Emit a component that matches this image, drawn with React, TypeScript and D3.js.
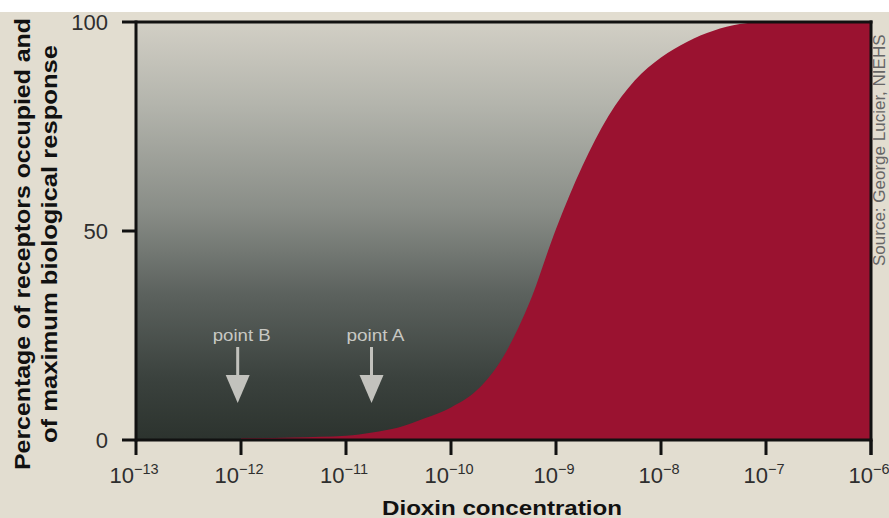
import React from "react";
import * as d3 from "d3";

// ---- data ----
const concentration = [
  1e-12, 3.16e-12, 1e-11, 1.78e-11, 3.16e-11, 5.62e-11, 1e-10, 1.78e-10, 3.16e-10, 5.62e-10,
  1e-9, 1.78e-9, 3.16e-9, 5.62e-9, 1e-8, 1.78e-8, 3.16e-8, 5.62e-8, 1e-7, 1e-6,
];
const percentResponse = [
  0.4, 0.6, 1.0, 1.8, 3.0, 5.2, 7.8, 12, 20, 33,
  50.5, 65.5, 77.5, 86, 91.5, 95.3, 97.9, 99.5, 100, 100,
];
const xTickExponents = [-13, -12, -11, -10, -9, -8, -7, -6];
const yTicks = [0, 50, 100];
const pointLabels = ["point B", "point A"];
const pointConcentrations = [9.3e-13, 1.75e-11];

const W = 889;
const H = 518;
const FONT = "'Liberation Sans', Arial, Helvetica, sans-serif";

export default function App() {
  const x = d3.scaleLog().domain([1e-13, 1e-6]).range([136, 871]);
  const y = d3.scaleLinear().domain([0, 100]).range([440, 22]);

  const data = concentration.map((c, i) => ({ c, p: percentResponse[i] }));
  const area = d3
    .area<{ c: number; p: number }>()
    .x((d) => x(d.c))
    .y0(y(0))
    .y1((d) => y(d.p))
    .curve(d3.curveMonotoneX);

  const [x0, x1] = x.range();
  const [yb, yt] = y.range();

  return (
    <div style={{ position: "fixed", left: 0, top: 0 }}>
      <svg width={W} height={H} style={{ display: "block" }}>
        <defs>
          <linearGradient id="bgGrad" x1="0" y1="0" x2="0" y2="1">
            <stop offset="0%" stopColor="#d2cfc5" />
            <stop offset="20%" stopColor="#b3b4ac" />
            <stop offset="45%" stopColor="#898d87" />
            <stop offset="65%" stopColor="#5c625e" />
            <stop offset="85%" stopColor="#3b423e" />
            <stop offset="100%" stopColor="#2c332e" />
          </linearGradient>
          <clipPath id="plotClip">
            <rect x={x0} y={yt} width={x1 - x0} height={yb - yt} />
          </clipPath>
        </defs>

        {/* page background */}
        <rect x={0} y={0} width={W} height={H} fill="#e2ddd0" />

        {/* plot background */}
        <rect x={x0} y={yt} width={x1 - x0} height={yb - yt} fill="url(#bgGrad)" />

        {/* response area */}
        <path d={area(data) || ""} fill="#9a1230" clipPath="url(#plotClip)" />

        {/* arrows and labels */}
        {pointLabels.map((lab, i) => {
          const ax = x(pointConcentrations[i]);
          return (
            <g key={lab}>
              <text
                x={ax + 4}
                y={341}
                textAnchor="middle"
                fontFamily={FONT}
                fontSize={16.5}
                fill="#c8c8c3"
                textLength={58}
                lengthAdjust="spacingAndGlyphs"
              >
                {lab}
              </text>
              <line x1={ax} x2={ax} y1={347} y2={378} stroke="#c2c2bd" strokeWidth={3} />
              <path d={`M${ax - 12},375 L${ax + 12},375 L${ax},403 Z`} fill="#c2c2bd" />
            </g>
          );
        })}

        {/* axes frame */}
        <g stroke="#111" strokeWidth={3} strokeLinecap="butt">
          <line x1={x0} x2={x0} y1={yt - 1.5} y2={yb + 1.5} />
          <line x1={x1} x2={x1} y1={yt - 1.5} y2={455} />
          {yTicks.map((t) => (
            <line key={t} x1={122} x2={t === 50 ? x0 : x1 + 1.5} y1={y(t)} y2={y(t)} />
          ))}
          {xTickExponents.map((e) => (
            <line key={e} x1={x(Math.pow(10, e))} x2={x(Math.pow(10, e))} y1={yb} y2={455} />
          ))}
        </g>

        {/* y tick labels */}
        {yTicks.map((t) => (
          <text
            key={t}
            x={108}
            y={y(t) + 8}
            textAnchor="end"
            fontFamily={FONT}
            fontSize={22}
            fill="#2e2e2e"
          >
            {t}
          </text>
        ))}

        {/* x tick labels */}
        {xTickExponents.map((e) => (
          <text
            key={e}
            x={x(Math.pow(10, e)) - 2}
            y={483}
            textAnchor="middle"
            fontFamily={FONT}
            fontSize={22}
            fill="#2e2e2e"
          >
            10
            <tspan fontSize={14.5} dy={-9}>
              {"\u2212" + Math.abs(e)}
            </tspan>
          </text>
        ))}

        {/* axis titles */}
        <text
          x={502}
          y={515}
          textAnchor="middle"
          fontFamily={FONT}
          fontWeight="bold"
          fontSize={21}
          fill="#111"
          textLength={240}
          lengthAdjust="spacingAndGlyphs"
        >
          Dioxin concentration
        </text>
        <g transform="translate(30,244) rotate(-90)">
          <text
            x={0}
            y={0}
            textAnchor="middle"
            fontFamily={FONT}
            fontWeight="bold"
            fontSize={21.5}
            fill="#111"
            textLength={452}
            lengthAdjust="spacingAndGlyphs"
          >
            Percentage of receptors occupied and
          </text>
        </g>
        <g transform="translate(56.5,244) rotate(-90)">
          <text
            x={0}
            y={0}
            textAnchor="middle"
            fontFamily={FONT}
            fontWeight="bold"
            fontSize={21.5}
            fill="#111"
            textLength={398}
            lengthAdjust="spacingAndGlyphs"
          >
            of maximum biological response
          </text>
        </g>

        {/* source credit */}
        <g transform="translate(885,266) rotate(-90)">
          <text x={0} y={0} fontFamily={FONT} fontSize={17} fill="#666">
            Source: George Lucier, NIEHS
          </text>
        </g>

        {/* top white strip */}
        <rect x={0} y={0} width={W} height={12} fill="#ffffff" />
      </svg>
    </div>
  );
}
